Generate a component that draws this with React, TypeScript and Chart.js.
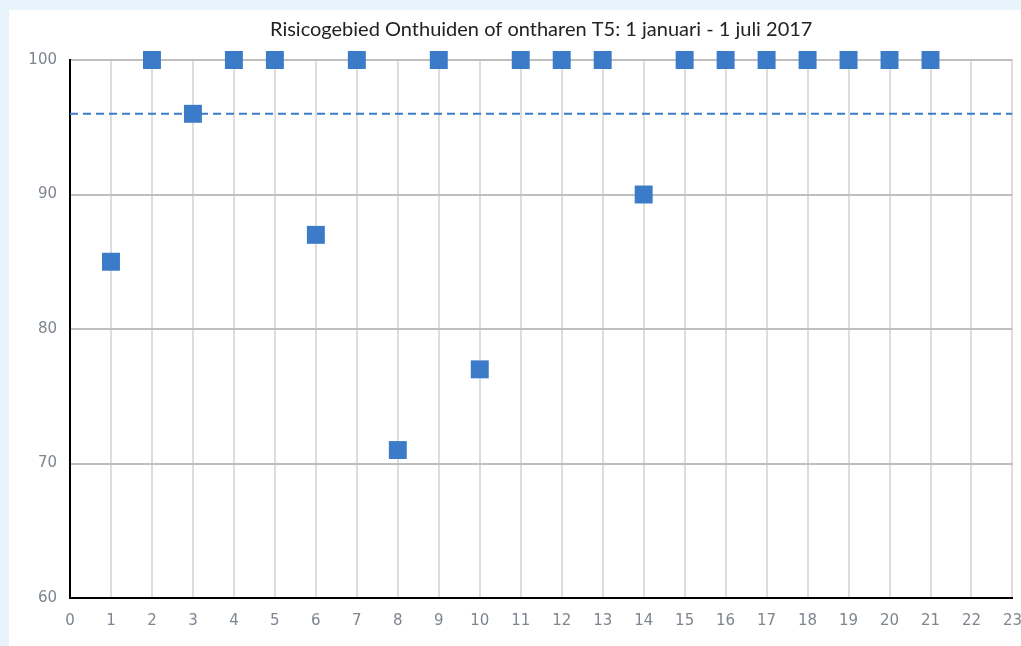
import React, { useEffect, useRef } from "react";
import { Chart, registerables } from "chart.js";

Chart.register(...registerables);

const titleText = "Risicogebied Onthuiden of ontharen T5: 1 januari - 1 juli 2017";
const xValues = [1, 2, 3, 4, 5, 6, 7, 8, 9, 10, 11, 12, 13, 14, 15, 16, 17, 18, 19, 20, 21];
const yValues = [85, 100, 96, 100, 100, 87, 100, 71, 100, 77, 100, 100, 100, 90, 100, 100, 100, 100, 100, 100, 100];
const targetX = [0, 23];
const targetY = [96, 96];
const xMin = 0;
const xMax = 23;
const yMin = 60;
const yMax = 100;

export default function App() {
  const ref = useRef<HTMLCanvasElement | null>(null);

  useEffect(() => {
    document.body.style.margin = "0";
    document.body.style.overflow = "hidden";
    const ctx = ref.current!;
    const chart = new Chart(ctx, {
      type: "scatter",
      data: {
        datasets: [
          {
            label: "Resultaat",
            data: xValues.map((x, i) => ({ x, y: yValues[i] })),
            backgroundColor: "#3b7bc8",
            borderWidth: 0,
            pointStyle: "rect",
            pointRadius: 12.7,
            clip: false as any,
            order: 1,
          },
          {
            label: "Norm",
            data: targetX.map((x, i) => ({ x, y: targetY[i] })),
            showLine: true,
            borderColor: "#3b7bc8",
            borderWidth: 2,
            borderDash: [8, 5],
            pointRadius: 0,
            order: 2,
          },
        ],
      },
      options: {
        animation: false,
        responsive: false,
        layout: { padding: { left: 0, right: 0, top: 0, bottom: 0 } },
        plugins: {
          legend: { display: false },
          tooltip: { enabled: false },
          title: {
            display: true,
            fullSize: false,
            text: titleText,
            color: "#222222",
            font: { family: "Lato, sans-serif", size: 20, weight: "normal" as any, lineHeight: 1.2 },
            padding: { top: 8, bottom: 18 },
          },
        },
        scales: {
          x: {
            type: "linear",
            min: xMin,
            max: xMax,
            ticks: {
              stepSize: 1,
              color: "#7d858e",
              font: { family: "'DejaVu Sans', sans-serif", size: 15 },
              padding: 14,
            },
            grid: { color: "#dddddd", lineWidth: 2, drawTicks: false },
            border: { color: "#000000", width: 2 },
            afterFit: (s: any) => { s.height = 48; },
          },
          y: {
            type: "linear",
            min: yMin,
            max: yMax,
            ticks: {
              stepSize: 10,
              color: "#7d858e",
              font: { family: "'DejaVu Sans', sans-serif", size: 15 },
              padding: 13,
            },
            grid: { color: "#bfbfbf", lineWidth: 2, drawTicks: false },
            border: { color: "#000000", width: 2 },
            afterFit: (s: any) => { s.width = 61; },
          },
        },
      },
    });
    return () => chart.destroy();
  }, []);

  return (
    <div style={{ position: "fixed", left: 0, top: 0, width: 1021, height: 646, overflow: "hidden", background: "#e8f4fc" }}>
      <canvas
        ref={ref}
        width={1027}
        height={636}
        style={{ position: "absolute", left: 9, top: 10, width: 1027, height: 636, background: "#ffffff" }}
      />
    </div>
  );
}
